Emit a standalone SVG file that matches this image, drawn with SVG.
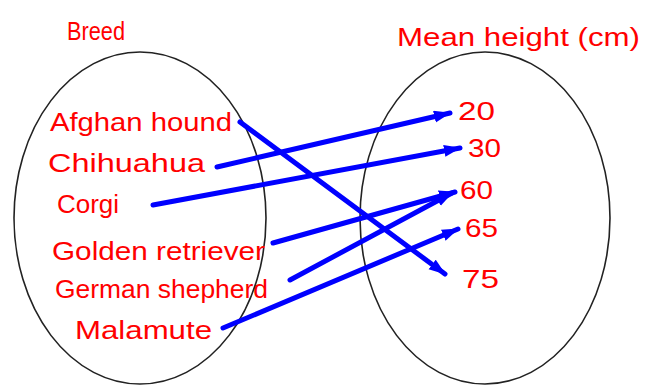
<svg xmlns="http://www.w3.org/2000/svg" width="651" height="385" viewBox="0 0 651 385">
<style>
.set{fill:none;stroke:#222;stroke-width:1.6}
.lbl{font-family:"Liberation Sans",Arial,sans-serif;fill:#ff0000;font-size:25px}
.conn{stroke:#0000ff;stroke-width:5;stroke-linecap:round;fill:none}
</style>
<defs>
<marker id="ah" markerUnits="userSpaceOnUse" markerWidth="18" markerHeight="14" refX="16" refY="6" orient="auto">
<path d="M0,0 L17,6 L0,12 Z" fill="#0000ff"/>
</marker>
</defs>
<rect width="651" height="385" fill="#fff"/>
<g id="title-breed"><text class="lbl" x="67" y="40" font-size="26" textLength="58" lengthAdjust="spacingAndGlyphs">Breed</text></g>
<g id="title-height"><text class="lbl" x="397" y="46" font-size="27" textLength="243" lengthAdjust="spacingAndGlyphs">Mean height (cm)</text></g>
<g id="set-breed"><ellipse class="set" cx="140" cy="218" rx="126" ry="166"/></g>
<g id="set-height"><ellipse class="set" cx="485" cy="218" rx="125" ry="166"/></g>
<g id="n-afghan"><text class="lbl" x="50" y="131" textLength="182" lengthAdjust="spacingAndGlyphs">Afghan hound</text></g>
<g id="n-chihuahua"><text class="lbl" x="48" y="172" textLength="157" lengthAdjust="spacingAndGlyphs">Chihuahua</text></g>
<g id="n-corgi"><text class="lbl" x="57" y="213" textLength="62" lengthAdjust="spacingAndGlyphs">Corgi</text></g>
<g id="n-golden"><text class="lbl" x="52" y="260" textLength="213" lengthAdjust="spacingAndGlyphs">Golden retriever</text></g>
<g id="n-german"><text class="lbl" x="55" y="298" textLength="213" lengthAdjust="spacingAndGlyphs">German shepherd</text></g>
<g id="n-malamute"><text class="lbl" x="75" y="339" textLength="137" lengthAdjust="spacingAndGlyphs">Malamute</text></g>
<g id="n-20"><text class="lbl" x="458" y="120" textLength="37" lengthAdjust="spacingAndGlyphs">20</text></g>
<g id="n-30"><text class="lbl" x="468" y="157" textLength="33" lengthAdjust="spacingAndGlyphs">30</text></g>
<g id="n-60"><text class="lbl" x="460" y="199" textLength="33" lengthAdjust="spacingAndGlyphs">60</text></g>
<g id="n-65"><text class="lbl" x="465" y="237" textLength="33" lengthAdjust="spacingAndGlyphs">65</text></g>
<g id="n-75"><text class="lbl" x="462" y="288" textLength="37" lengthAdjust="spacingAndGlyphs">75</text></g>
<g id="connectors">
<line class="conn" x1="240" y1="122" x2="445" y2="274" marker-end="url(#ah)"/>
<line class="conn" x1="217" y1="167" x2="450" y2="113" marker-end="url(#ah)"/>
<line class="conn" x1="153" y1="205" x2="460" y2="148" marker-end="url(#ah)"/>
<line class="conn" x1="273" y1="243" x2="455" y2="192" marker-end="url(#ah)"/>
<line class="conn" x1="290" y1="280" x2="452" y2="193" marker-end="url(#ah)"/>
<line class="conn" x1="223" y1="328" x2="458" y2="229" marker-end="url(#ah)"/>
</g>
</svg>
